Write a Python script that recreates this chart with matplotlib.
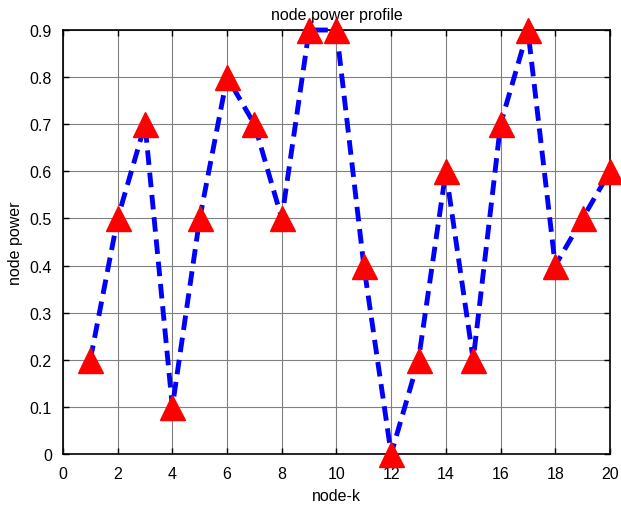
import matplotlib
matplotlib.use("Agg")
import matplotlib.pyplot as plt

plt.rcParams['font.family'] = ['Liberation Sans', 'DejaVu Sans']

nodes = list(range(1, 21))
power = [0.2, 0.5, 0.7, 0.1, 0.5, 0.8, 0.7, 0.5, 0.9, 0.9,
         0.4, 0.0, 0.2, 0.6, 0.2, 0.7, 0.9, 0.4, 0.5, 0.6]
xticks = list(range(0, 21, 2))
yticks = [0, 0.1, 0.2, 0.3, 0.4, 0.5, 0.6, 0.7, 0.8, 0.9]
ytick_labels = ['0', '0.1', '0.2', '0.3', '0.4', '0.5', '0.6', '0.7', '0.8', '0.9']

fig = plt.figure(figsize=(6.21, 5.06), dpi=100)
ax = fig.add_axes([0.1014, 0.1008, 0.8808, 0.8379])

ax.plot(nodes, power, color='blue', linestyle=(0, (3, 1.6)), linewidth=3.5,
        marker='^', markersize=18, markerfacecolor='red', markeredgecolor='red',
        clip_on=False, zorder=5)

ax.set_xlim(0, 20)
ax.set_ylim(0, 0.9)
ax.set_xticks(xticks)
ax.set_yticks(yticks)
ax.set_yticklabels(ytick_labels)
ax.grid(True, color='#808080', linewidth=0.8, linestyle='-')
ax.set_axisbelow(True)
ax.tick_params(direction='in', top=True, right=True, length=4, width=1,
               labelsize=11.5)
ax.tick_params(axis='x', pad=8.5)
ax.tick_params(axis='y', pad=8)
for s in ax.spines.values():
    s.set_linewidth(1.2)

ax.set_title('node power profile', fontsize=11.5, pad=8)
ax.set_xlabel('node-k', fontsize=11.5, labelpad=5)
ax.set_ylabel('node power', fontsize=11.5, labelpad=5)

fig.savefig('out.png', dpi=100)
